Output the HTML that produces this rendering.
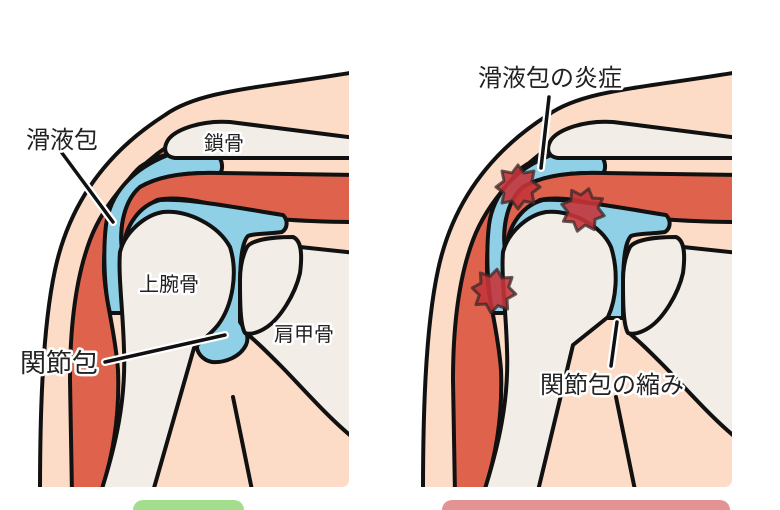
<!DOCTYPE html>
<html><head><meta charset="utf-8"><style>
html,body{margin:0;padding:0;background:#fff;}
svg{display:block;}
text{font-family:"Liberation Sans","Noto Sans CJK JP",sans-serif;fill:#222;paint-order:stroke;stroke:#fff;stroke-width:5px;stroke-linejoin:round;}
</style></head><body>
<svg width="780" height="510" viewBox="0 0 780 510" xmlns="http://www.w3.org/2000/svg">
<defs>
<clipPath id="cp"><path d="M0,0 L349,0 L349,479 Q349,487 341,487 L0,487 Z"/></clipPath>
<g id="base" stroke="#111" stroke-width="4" stroke-linejoin="round" stroke-linecap="round">
 <path fill="#fcdcc6" stroke="none" d="M356,72 C260,88 200,90 165,115 C110,150 70,200 55,270 C42,330 40,420 40,492 L356,492 Z"/>
 <path fill="#f2ede7" d="M300,247 L356,253 L356,440 C330,420 300,385 280,365 C265,350 255,340 246,333 Z"/>
 <path fill="none" d="M233,397 L253,495"/>
 <path fill="#df634c" d="M168,146 C140,165 105,200 90,240 C75,280 70,330 70,380 L72,495 L100,495 C112,460 120,420 118,370 C115,330 105,300 104,270 C103,230 115,190 140,167 C150,160 160,156 168,155 Z"/>
 <path fill="#8fd0e6" d="M168,155 L218,157 C223,160 223,170 220,173 C190,172 160,175 140,187 C125,200 119,225 122,250 L125,313 L110,313 C104,290 103,250 106,225 C110,195 130,170 168,155 Z"/>
 <path fill="#df634c" d="M356,175 L220,173 C190,172 160,175 140,187 C125,200 119,225 122,250 L128,250 C128,232 135,212 157,200 C180,195 210,203 250,215 C280,222 356,222 356,222 Z"/>
 <path fill="#f2ede7" d="M230,122 C200,120 175,130 168,140 C162,150 166,157 175,158 L356,158 L356,138 Z"/>
</g>
<g id="top" stroke="#111" stroke-width="4" stroke-linejoin="round" stroke-linecap="round">
 <path fill="#f2ede7" d="M247,247 C252,240 270,237 293,237 C300,240 303,250 300,273 C295,295 280,318 267,327 C258,333 250,335 245,333 C240,325 240,300 240,280 C240,265 243,255 247,247 Z"/>
 <path fill="none" d="M356,72 C260,88 200,90 165,115 C110,150 70,200 55,270 C42,330 40,420 40,492"/>
</g>
</defs>

<g clip-path="url(#cp)">
 <use href="#base"/>
 <path fill="#8fd0e6" stroke="#111" stroke-width="4" stroke-linejoin="round" d="M124,245 C126,225 140,205 160,200 C190,198 250,210 283,215 C288,220 288,228 282,232 C270,234 255,233 248,236 C242,242 240,260 240,290 L240,322 C245,330 250,336 246,345 C240,357 225,363 212,362 C202,360 196,352 197,344 L215,320 L200,260 L150,235 Z"/>
 <path fill="#f2ede7" stroke="#111" stroke-width="4" stroke-linejoin="round" d="M120,252 C125,232 145,215 163,212 C188,210 218,225 230,247 C238,272 233,305 218,325 C210,335 200,342 194,348 L152,495 L100,495 C116,445 126,400 124,350 C123,310 118,275 120,252 Z"/>
 <use href="#top"/>
</g>

<g transform="translate(383,0)">
<g clip-path="url(#cp)">
 <use href="#base"/>
 <path fill="#8fd0e6" stroke="#111" stroke-width="4" stroke-linejoin="round" d="M124,245 C126,225 140,205 160,200 C190,198 250,210 283,215 C288,220 288,228 282,232 C270,234 255,233 248,236 C242,242 240,260 240,290 L240,318 L225,318 L200,260 L150,235 Z"/>
 <path fill="#f2ede7" stroke="#111" stroke-width="4" stroke-linejoin="round" d="M120,252 C125,232 145,215 163,212 C188,210 218,225 228,247 C236,272 233,300 225,317 L190,345 L154,495 L100,495 C116,445 126,400 124,350 C123,310 118,275 120,252 Z"/>
 <use href="#top"/>
</g>
</g>

<g fill="#c5343a" fill-opacity="0.9" stroke="#3a2a2a" stroke-opacity="0.75" stroke-width="3" stroke-linejoin="round">
 <polygon transform="translate(518,187)" points="0,-22 6,-14 16,-16 14,-6 22,0 14,6 16,16 6,14 0,22 -6,14 -16,16 -14,6 -22,0 -14,-6 -16,-16 -6,-14"/>
 <polygon transform="translate(583,210) rotate(15)" points="0,-22 6,-14 16,-16 14,-6 22,0 14,6 16,16 6,14 0,22 -6,14 -16,16 -14,6 -22,0 -14,-6 -16,-16 -6,-14"/>
 <polygon transform="translate(494,291) rotate(8)" points="0,-22 6,-14 16,-16 14,-6 22,0 14,6 16,16 6,14 0,22 -6,14 -16,16 -14,6 -22,0 -14,-6 -16,-16 -6,-14"/>
</g>

<g stroke-linecap="round">
 <path d="M62,153 L113,222" stroke="#fff" stroke-width="8"/>
 <path d="M62,153 L113,222" stroke="#111" stroke-width="3.5"/>
 <path d="M105,362 L225,335" stroke="#fff" stroke-width="8"/>
 <path d="M105,362 L225,335" stroke="#111" stroke-width="3.5"/>
 <path d="M549,97 L541,168" stroke="#fff" stroke-width="8"/>
 <path d="M549,97 L541,168" stroke="#111" stroke-width="3.5"/>
 <path d="M617,322 L611,366" stroke="#fff" stroke-width="8"/>
 <path d="M617,322 L611,366" stroke="#111" stroke-width="3.5"/>
</g>

<text x="26" y="148" font-size="24">滑液包</text>
<text x="204" y="150" font-size="20">鎖骨</text>
<text x="139" y="291" font-size="20">上腕骨</text>
<text x="274" y="341" font-size="20">肩甲骨</text>
<text x="20" y="372" font-size="26">関節包</text>
<text x="478" y="86" font-size="24">滑液包の炎症</text>
<text x="540" y="393" font-size="24">関節包の縮み</text>

<rect x="133" y="500" width="111" height="30" rx="10" fill="#a3de8c"/>
<rect x="442" y="500" width="288" height="30" rx="10" fill="#e39394"/>
</svg>
</body></html>
